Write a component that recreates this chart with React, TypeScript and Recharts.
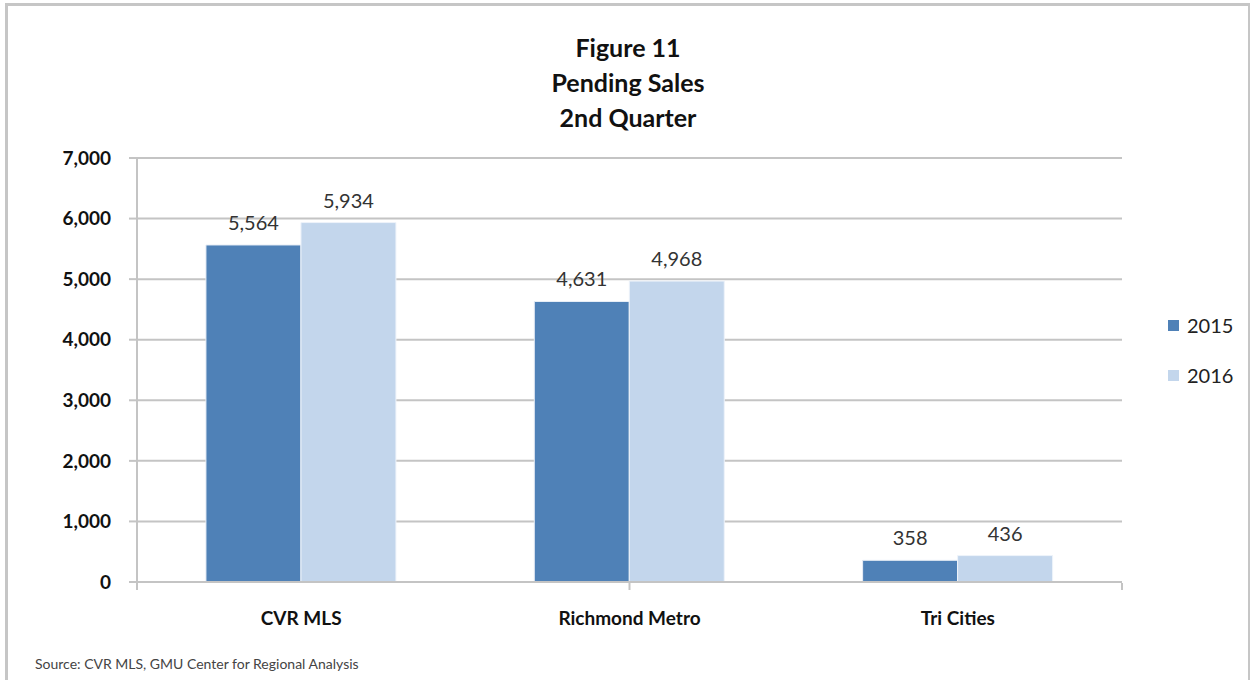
import { BarChart, Bar, XAxis, YAxis, CartesianGrid, Legend, LabelList } from 'recharts';

const categories = ['CVR MLS', 'Richmond Metro', 'Tri Cities'];
const sales2015 = [5564, 4631, 358];
const sales2016 = [5934, 4968, 436];
const yTicks = [0, 1000, 2000, 3000, 4000, 5000, 6000, 7000];
const boundaryTicks = [0, 1, 2, 3];

const COLOR_2015 = '#4f81b7';
const COLOR_2016 = '#c3d6ec';
const GRID = '#c4c4c4';
const FONT = 'Lato, "Open Sans", sans-serif';

const data = categories.map((name, i) => ({ name, y2015: sales2015[i], y2016: sales2016[i] }));

const fmt = (v: number) => v.toLocaleString('en-US');

function LegendBox() {
  const items = [
    { label: '2015', color: COLOR_2015 },
    { label: '2016', color: COLOR_2016 },
  ];
  return (
    <div style={{ fontFamily: FONT }}>
      {items.map((it) => (
        <div key={it.label} style={{ display: 'flex', alignItems: 'center', height: 50 }}>
          <span style={{ width: 11, height: 11, background: it.color, marginRight: 8 }} />
          <span style={{ fontSize: 20, color: '#222' }}>{it.label}</span>
        </div>
      ))}
    </div>
  );
}

export default function App() {
  return (
    <div style={{ position: 'absolute', left: 0, top: 0, width: 1250, height: 680, background: '#fff', overflow: 'hidden', fontFamily: FONT }}>
      <div style={{ position: 'absolute', left: 5, top: 3, width: 1240, height: 720, border: '3px solid #c6c6c6' }} />
      <div style={{ position: 'absolute', left: 0, top: 30, width: 1256, textAlign: 'center', fontWeight: 700, fontSize: 25, lineHeight: '35px', color: '#111' }}>
        <div>Figure 11</div>
        <div>Pending Sales</div>
        <div>2nd Quarter</div>
      </div>
      <div style={{ position: 'absolute', left: 35, top: 655, fontSize: 14, color: '#444' }}>
        Source: CVR MLS, GMU Center for Regional Analysis
      </div>
      <div style={{ position: 'absolute', left: 0, top: 0 }}>
        <BarChart
          width={1250}
          height={680}
          data={data}
          margin={{ top: 158, right: 48, bottom: 49, left: 47 }}
          barCategoryGap="21%"
          barGap={0}
        >
          <CartesianGrid horizontal vertical={false} stroke={GRID} strokeWidth={2} />
          <XAxis
            dataKey="name"
            axisLine={{ stroke: GRID, strokeWidth: 2 }}
            tickLine={false}
            tickMargin={24}
            height={1}
            tick={{ fontSize: 19, fontWeight: 700, fill: '#111', fontFamily: FONT }}
          />
          <XAxis
            xAxisId="b"
            type="number"
            domain={[0, 3]}
            ticks={boundaryTicks}
            axisLine={false}
            tickLine={{ stroke: GRID, strokeWidth: 2 }}
            tickSize={7}
            tickFormatter={() => ''}
            height={48}
            orientation="bottom"
          />
          <YAxis
            domain={[0, 7000]}
            ticks={yTicks}
            tickFormatter={fmt}
            width={90}
            axisLine={{ stroke: GRID, strokeWidth: 2 }}
            tickLine={{ stroke: GRID, strokeWidth: 2 }}
            tickSize={8}
            tickMargin={18}
            tick={{ fontSize: 19, fontWeight: 700, fill: '#111', fontFamily: FONT }}
          />
          <Legend
            layout="vertical"
            align="right"
            verticalAlign="top"
            content={() => <LegendBox />}
            wrapperStyle={{ left: 1168, top: 300, width: 80 }}
          />
          <Bar dataKey="y2015" name="2015" fill={COLOR_2015} stroke="#e8eef6" strokeWidth={1} isAnimationActive={false}>
            <LabelList dataKey="y2015" position="top" offset={15} formatter={(v: any) => fmt(Number(v))} style={{ fontSize: 20, fill: '#333', fontFamily: FONT }} />
          </Bar>
          <Bar dataKey="y2016" name="2016" fill={COLOR_2016} stroke="#eef3fa" strokeWidth={1} isAnimationActive={false}>
            <LabelList dataKey="y2016" position="top" offset={15} formatter={(v: any) => fmt(Number(v))} style={{ fontSize: 20, fill: '#333', fontFamily: FONT }} />
          </Bar>
        </BarChart>
      </div>
    </div>
  );
}
